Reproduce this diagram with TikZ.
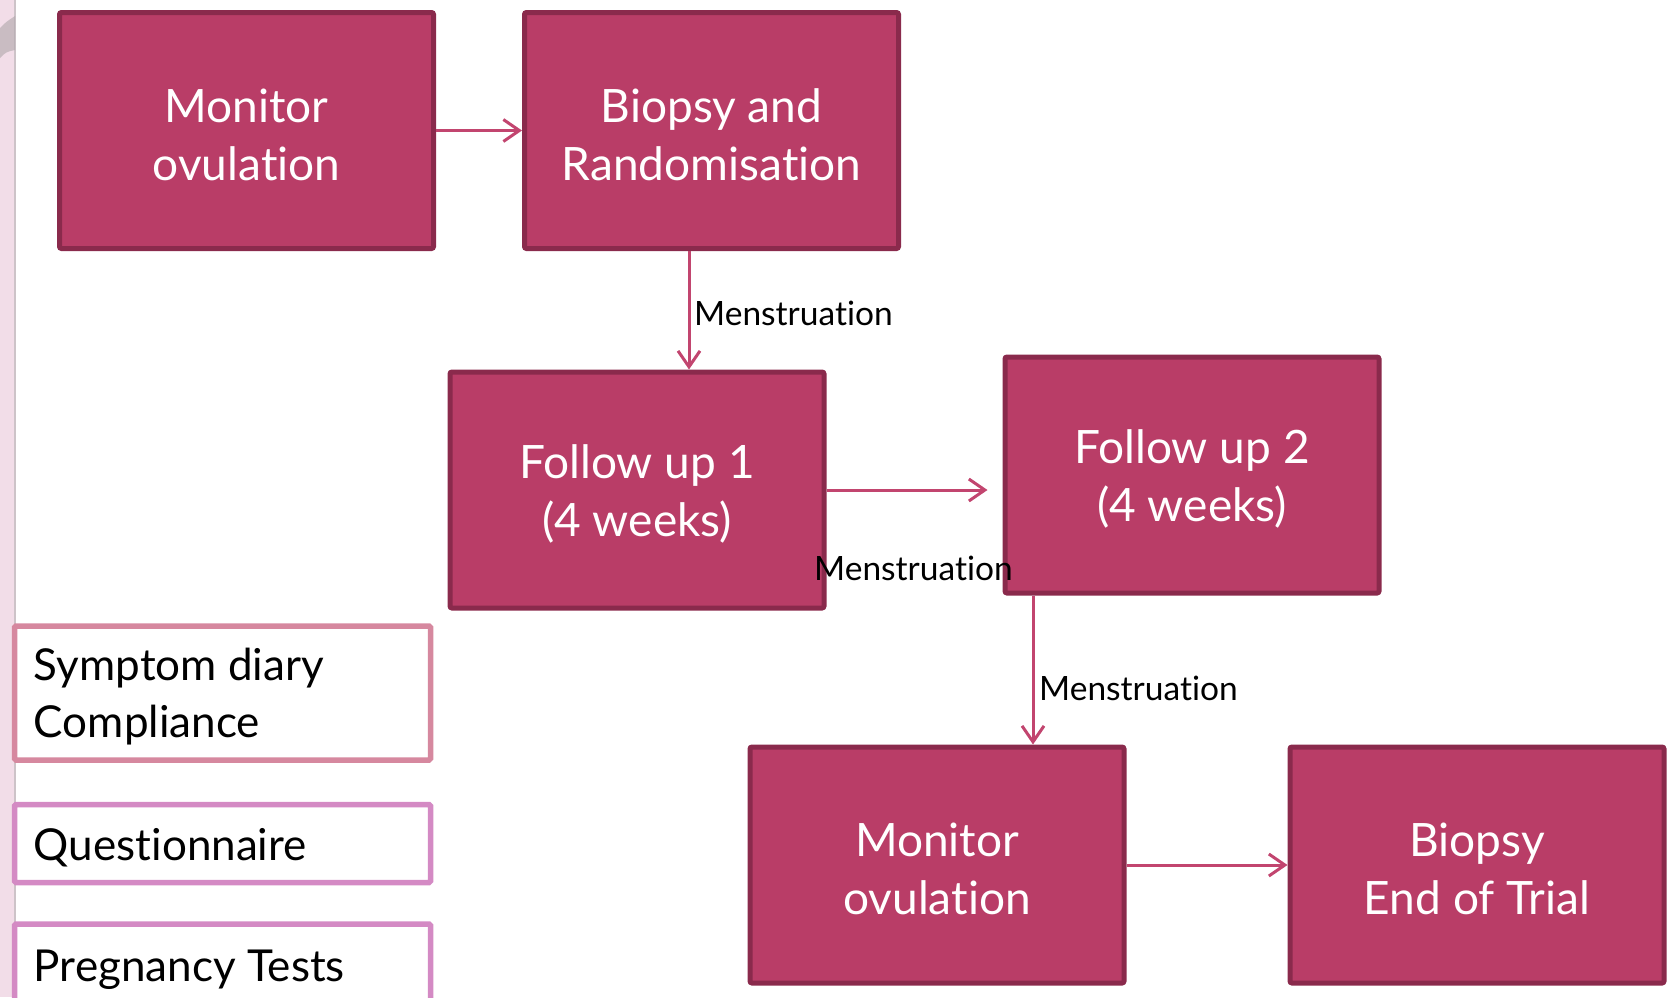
\documentclass[tikz,border=0pt]{standalone}
\usepackage{fontspec}
\setmainfont[Ligatures={NoCommon,NoRare,NoDiscretionary}]{Lato}
\usetikzlibrary{arrows.meta}
\definecolor{boxfill}{RGB}{185,61,103}
\definecolor{boxline}{RGB}{138,42,76}
\definecolor{arrcol}{RGB}{194,69,111}
\definecolor{pinkline}{RGB}{214,136,159}
\definecolor{orchidline}{RGB}{212,138,196}
\definecolor{stripfill}{RGB}{242,221,232}
\definecolor{stripedge}{RGB}{205,195,200}
\begin{document}
\begin{tikzpicture}[x=1pt,y=-1pt,
  mainbox/.style={draw=boxline, fill=boxfill, line width=5pt, rounded corners=2pt,
    minimum width=374pt, minimum height=236pt, inner sep=0pt},
  maintext/.style={text=white, align=center, inner sep=0pt, yshift=-4pt,
    font=\fontsize{46}{58}\selectfont},
  sidebox/.style={draw=#1, fill=white, line width=5.5pt, rounded corners=1.5pt,
    minimum width=416pt, inner sep=0pt},
  sidetext/.style={anchor=west, xshift=22pt, yshift=-4pt, inner sep=0pt, align=left,
    text=black, font=\fontsize{44}{57}\selectfont},
  arr/.style={draw=arrcol, line width=3pt, -{Straight Barb[length=16pt,width=22pt,line width=3pt]}},
  lbl/.style={anchor=west, inner sep=0pt, text=black, font=\fontsize{33.5}{40}\selectfont}
]
\useasboundingbox (0,0) rectangle (1668,997);
\clip (0,0) rectangle (1668,997);
% left decorative strip
\fill[stripfill] (0,0) rectangle (15,997);
\draw[stripedge, line width=2pt] (15,0) -- (15,997);
\fill[stripedge!85!black, opacity=0.6] (0,28) .. controls (6,22) .. (15,16) -- (15,50) .. controls (6,52) .. (0,58) -- cycle;

% main boxes
\node[mainbox] (b1) at (246.5,130.5) {};
\node[mainbox] (b2) at (711.5,130.5) {};
\node[mainbox] (b3) at (637,490) {};
\node[mainbox] (b4) at (1192,475) {};
\node[mainbox] (b5) at (937,865) {};
\node[mainbox] (b6) at (1477,865) {};
\node[maintext] (t1) at (b1.center) {Monitor\\ovulation};
\node[maintext] (t2) at (b2.center) {Biopsy and\\Randomisation};
\node[maintext] (t3) at (b3.center) {Follow up 1\\(4 weeks)};
\node[maintext] (t4) at (b4.center) {Follow up 2\\(4 weeks)};
\node[maintext] (t5) at (b5.center) {Monitor\\ovulation};
\node[maintext] (t6) at (b6.center) {Biopsy\\End of Trial};

% side boxes
\node[sidebox=pinkline, minimum height=134pt] (s1) at (222.5,693) {};
\node[sidebox=orchidline, minimum height=78pt] (s2) at (222.5,843.5) {};
\node[sidebox=orchidline, minimum height=88pt] (s3) at (222.5,968) {};
\node[sidetext] (st1) at (s1.west) {Symptom diary\\Compliance};
\node[sidetext] (st2) at (s2.west) {Questionnaire};
\node[sidetext, yshift=2pt] (st3) at (s3.west) {Pregnancy Tests};

% connectors
\coordinate (x23) at (689,0);
\coordinate (x45) at (1033,0);
\draw[arr] (b1.east) -- (b2.west);
\draw[arr] (b2.south -| x23) -- (b3.north -| x23);
\draw[arr, shorten >=15pt] (b3.east) -- (b3.east -| b4.west);
\draw[arr] (b4.south -| x45) -- (b5.north -| x45);
\draw[arr] (b5.east) -- (b6.west);

% labels
\node[lbl] (m1) at (694,313) {Menstruation};
\node[lbl] (m2) at (814,568) {Menstruation};
\node[lbl] (m3) at (1039,688) {Menstruation};
\end{tikzpicture}
\end{document}
